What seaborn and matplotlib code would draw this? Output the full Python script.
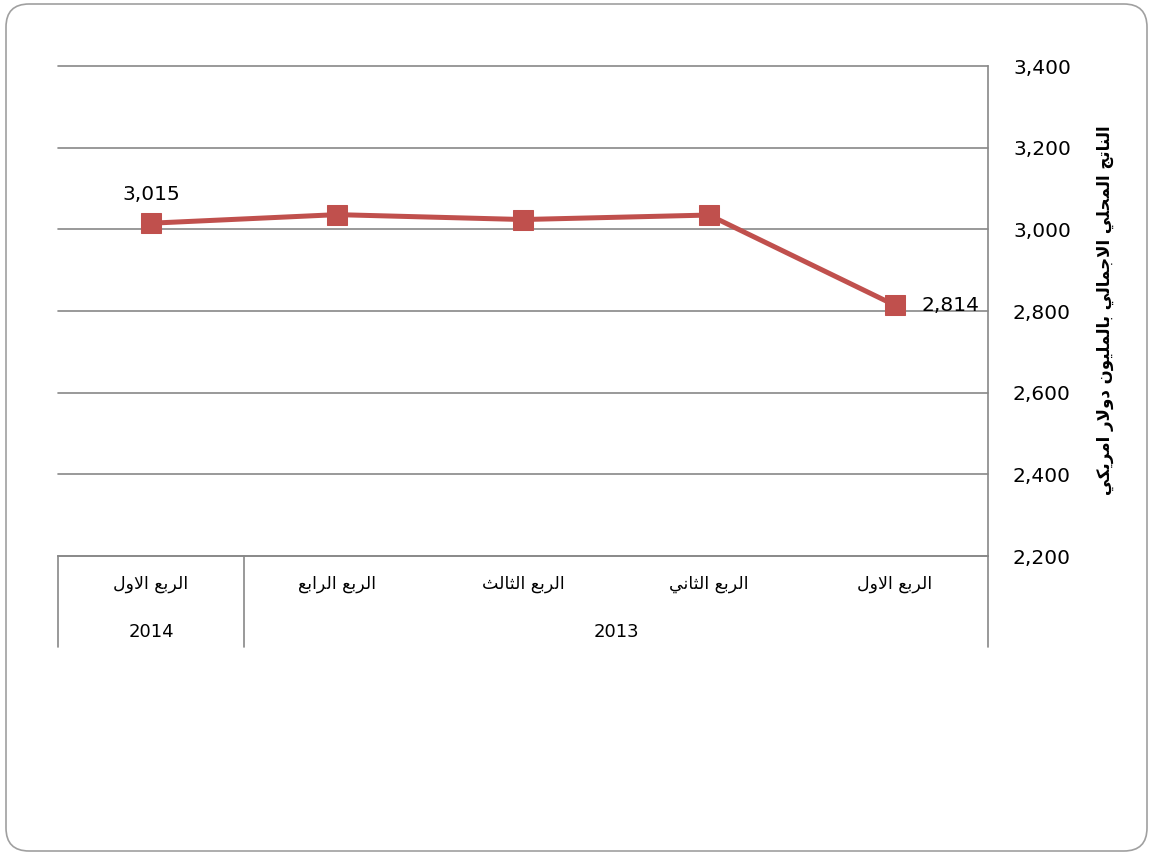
import numpy as np
import pandas as pd
import matplotlib
matplotlib.use("Agg")
import matplotlib.pyplot as plt
import matplotlib.transforms as mtransforms
from matplotlib.patches import FancyBboxPatch
from matplotlib.ticker import FuncFormatter
import seaborn as sns

# data, in time order (2013 Q1 .. 2014 Q1)
quarters = ["الربع الاول", "الربع الثاني", "الربع الثالث", "الربع الرابع", "الربع الاول"]
years = ["2013", "2013", "2013", "2013", "2014"]
gdp = [2814, 3035, 3024, 3036, 3015]
y_label = "الناتج المحلي الاجمالي بالمليون دولار امريكي"
y_ticks = [2200, 2400, 2600, 2800, 3000, 3200, 3400]

# matplotlib has no arabic shaping, so do a small one by hand
# letter: (isolated, final, initial, medial) ; None = does not join to the next letter
forms = {
    "ا": ("\uFE8D", "\uFE8E", None, None),
    "ب": ("\uFE8F", "\uFE90", "\uFE91", "\uFE92"),
    "ت": ("\uFE95", "\uFE96", "\uFE97", "\uFE98"),
    "ث": ("\uFE99", "\uFE9A", "\uFE9B", "\uFE9C"),
    "ج": ("\uFE9D", "\uFE9E", "\uFE9F", "\uFEA0"),
    "ح": ("\uFEA1", "\uFEA2", "\uFEA3", "\uFEA4"),
    "د": ("\uFEA9", "\uFEAA", None, None),
    "ر": ("\uFEAD", "\uFEAE", None, None),
    "ع": ("\uFEC9", "\uFECA", "\uFECB", "\uFECC"),
    "ك": ("\uFED9", "\uFEDA", "\uFEDB", "\uFEDC"),
    "ل": ("\uFEDD", "\uFEDE", "\uFEDF", "\uFEE0"),
    "م": ("\uFEE1", "\uFEE2", "\uFEE3", "\uFEE4"),
    "ن": ("\uFEE5", "\uFEE6", "\uFEE7", "\uFEE8"),
    "و": ("\uFEED", "\uFEEE", None, None),
    "ي": ("\uFEF1", "\uFEF2", "\uFEF3", "\uFEF4"),
    "لا": ("\uFEFB", "\uFEFC", None, None),
}


def shape(text):
    out = []
    for word in text.split(" "):
        letters = []
        i = 0
        while i < len(word):
            if word[i:i + 2] == "لا":
                letters.append("لا")
                i += 2
            else:
                letters.append(word[i])
                i += 1
        glyphs = []
        for k, ch in enumerate(letters):
            f = forms[ch]
            prev_joins = k > 0 and forms[letters[k - 1]][2] is not None
            next_ok = k < len(letters) - 1 and f[2] is not None
            if prev_joins and next_ok:
                glyphs.append(f[3])
            elif prev_joins:
                glyphs.append(f[1])
            elif next_ok:
                glyphs.append(f[2])
            else:
                glyphs.append(f[0])
        out.append("".join(glyphs))
    return " ".join(out)[::-1]


df = pd.DataFrame({"pos": np.arange(len(gdp)), "quarter": quarters, "year": years, "gdp": gdp})

sns.set_theme(style="white")
plt.rcParams["font.family"] = ["DejaVu Sans"]
plt.rcParams["text.color"] = "black"
red = "#C0504D"
grid = "#888888"

fig = plt.figure(figsize=(11.53, 8.55), dpi=100)
W, H = 1153, 855
ax = fig.add_axes([58 / W, 1 - 556 / H, 930 / W, 490 / H])

sns.lineplot(data=df, x="pos", y="gdp", ax=ax, color=red, linewidth=3.6,
             marker="s", markersize=15, markeredgecolor=red, sort=False)

ax.set_xlim(len(gdp) - 0.5, -0.5)
ax.set_ylim(2200, 3400)
ax.set_yticks(y_ticks)
ax.yaxis.set_major_formatter(FuncFormatter(lambda v, p: f"{int(v):,}"))
ax.yaxis.tick_right()
ax.tick_params(axis="y", length=0, pad=18, labelsize=14.5, labelcolor="black")
ax.set_xticks([])
ax.set_xlabel("")
ax.set_ylabel("")
ax.grid(axis="y", color=grid, linewidth=1.2)
for line in ax.get_ygridlines():
    line.set_clip_on(False)
for s in ["top", "left"]:
    ax.spines[s].set_visible(False)
ax.spines["right"].set_color(grid)
ax.spines["bottom"].set_color(grid)
ax.spines["right"].set_linewidth(1.2)
ax.spines["bottom"].set_linewidth(1.2)

# y axis title on the right
fig.text(1105 / W, 1 - 310 / H, shape(y_label), rotation=90, ha="center", va="center",
         fontsize=12, fontweight="bold", color="black")

# data labels
ax.annotate(f"{gdp[-1]:,}", (df.pos.iloc[-1], gdp[-1]), xytext=(0, 14), textcoords="offset points",
            ha="center", va="bottom", fontsize=14.5)
ax.annotate(f"{gdp[0]:,}", (df.pos.iloc[0], gdp[0]), xytext=(19, 0), textcoords="offset points",
            ha="left", va="center", fontsize=14.5)

# two level category axis
trans = mtransforms.blended_transform_factory(ax.transData, ax.transAxes)
depth = -(647 - 556) / 490
for xb in [len(gdp) - 0.5, len(gdp) - 1.5, -0.5]:
    ax.plot([xb, xb], [0, depth], transform=trans, color=grid, linewidth=1.2, clip_on=False)
for p, q in zip(df.pos, df.quarter):
    ax.text(p, -28 / 490, shape(q), transform=trans, ha="center", va="center", fontsize=12.5)
for yr in df.year.unique():
    p = df.pos[df.year == yr].mean()
    ax.text(p, -76 / 490, yr, transform=trans, ha="center", va="center", fontsize=13)

# rounded frame around the whole picture
frame = FancyBboxPatch((6 / W, 4 / H), 1141 / W, 847 / H, boxstyle="round,pad=0,rounding_size=0.02",
                       transform=fig.transFigure, facecolor="none", edgecolor="#a0a0a0", linewidth=1.2,
                       mutation_aspect=W / H)
fig.patches.append(frame)

fig.savefig("out.png", dpi=100)
